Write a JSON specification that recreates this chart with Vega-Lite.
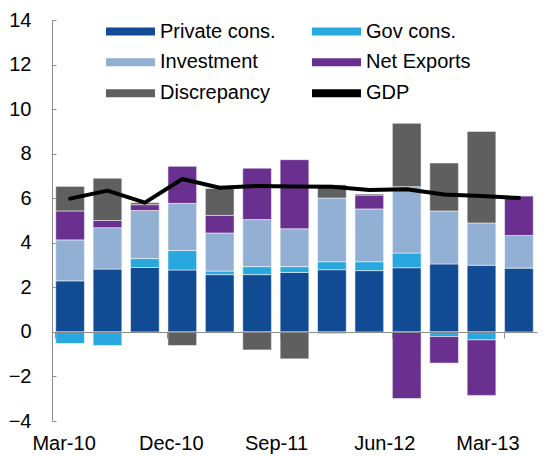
{
  "$schema": "https://vega.github.io/schema/vega-lite/v6.json",
  "width": 485,
  "height": 401,
  "autosize": {"type": "none"},
  "padding": {"left": 52, "top": 20, "right": 15, "bottom": 35},
  "config": {
    "font": "Liberation Sans",
    "view": {"stroke": null},
    "axis": {"labelFontSize": 20, "labelColor": "#000000", "domainColor": "#8c8c8c", "tickColor": "#8c8c8c", "grid": false, "title": null, "labelFont": "Liberation Sans"}
  },
  "datasets": {
    "bars": [
      {"q": "Mar-10", "comp": "Private cons.", "v": 2.29}, {"q": "Mar-10", "comp": "Gov cons.", "v": -0.52}, {"q": "Mar-10", "comp": "Investment", "v": 1.84}, {"q": "Mar-10", "comp": "Net Exports", "v": 1.30}, {"q": "Mar-10", "comp": "Discrepancy", "v": 1.10},
      {"q": "Jun-10", "comp": "Private cons.", "v": 2.82}, {"q": "Jun-10", "comp": "Gov cons.", "v": -0.61}, {"q": "Jun-10", "comp": "Investment", "v": 1.86}, {"q": "Jun-10", "comp": "Net Exports", "v": 0.32}, {"q": "Jun-10", "comp": "Discrepancy", "v": 1.90},
      {"q": "Sep-10", "comp": "Private cons.", "v": 2.89}, {"q": "Sep-10", "comp": "Gov cons.", "v": 0.40}, {"q": "Sep-10", "comp": "Investment", "v": 2.16}, {"q": "Sep-10", "comp": "Net Exports", "v": 0.26}, {"q": "Sep-10", "comp": "Discrepancy", "v": 0.09},
      {"q": "Dec-10", "comp": "Private cons.", "v": 2.78}, {"q": "Dec-10", "comp": "Gov cons.", "v": 0.87}, {"q": "Dec-10", "comp": "Investment", "v": 2.12}, {"q": "Dec-10", "comp": "Net Exports", "v": 1.66}, {"q": "Dec-10", "comp": "Discrepancy", "v": -0.61},
      {"q": "Mar-11", "comp": "Private cons.", "v": 2.57}, {"q": "Mar-11", "comp": "Gov cons.", "v": 0.16}, {"q": "Mar-11", "comp": "Investment", "v": 1.71}, {"q": "Mar-11", "comp": "Net Exports", "v": 0.79}, {"q": "Mar-11", "comp": "Discrepancy", "v": 1.21},
      {"q": "Jun-11", "comp": "Private cons.", "v": 2.57}, {"q": "Jun-11", "comp": "Gov cons.", "v": 0.36}, {"q": "Jun-11", "comp": "Investment", "v": 2.11}, {"q": "Jun-11", "comp": "Net Exports", "v": 2.31}, {"q": "Jun-11", "comp": "Discrepancy", "v": -0.81},
      {"q": "Sep-11", "comp": "Private cons.", "v": 2.67}, {"q": "Sep-11", "comp": "Gov cons.", "v": 0.26}, {"q": "Sep-11", "comp": "Investment", "v": 1.70}, {"q": "Sep-11", "comp": "Net Exports", "v": 3.10}, {"q": "Sep-11", "comp": "Discrepancy", "v": -1.21},
      {"q": "Dec-11", "comp": "Private cons.", "v": 2.79}, {"q": "Dec-11", "comp": "Gov cons.", "v": 0.36}, {"q": "Dec-11", "comp": "Investment", "v": 2.86}, {"q": "Dec-11", "comp": "Net Exports", "v": -0.07}, {"q": "Dec-11", "comp": "Discrepancy", "v": 0.59},
      {"q": "Mar-12", "comp": "Private cons.", "v": 2.75}, {"q": "Mar-12", "comp": "Gov cons.", "v": 0.40}, {"q": "Mar-12", "comp": "Investment", "v": 2.37}, {"q": "Mar-12", "comp": "Net Exports", "v": 0.62}, {"q": "Mar-12", "comp": "Discrepancy", "v": 0.05},
      {"q": "Jun-12", "comp": "Private cons.", "v": 2.88}, {"q": "Jun-12", "comp": "Gov cons.", "v": 0.66}, {"q": "Jun-12", "comp": "Investment", "v": 2.98}, {"q": "Jun-12", "comp": "Net Exports", "v": -2.99}, {"q": "Jun-12", "comp": "Discrepancy", "v": 2.84},
      {"q": "Sep-12", "comp": "Private cons.", "v": 3.05}, {"q": "Sep-12", "comp": "Gov cons.", "v": -0.21}, {"q": "Sep-12", "comp": "Investment", "v": 2.38}, {"q": "Sep-12", "comp": "Net Exports", "v": -1.19}, {"q": "Sep-12", "comp": "Discrepancy", "v": 2.15},
      {"q": "Dec-12", "comp": "Private cons.", "v": 2.99}, {"q": "Dec-12", "comp": "Gov cons.", "v": -0.36}, {"q": "Dec-12", "comp": "Investment", "v": 1.90}, {"q": "Dec-12", "comp": "Net Exports", "v": -2.49}, {"q": "Dec-12", "comp": "Discrepancy", "v": 4.11},
      {"q": "Mar-13", "comp": "Private cons.", "v": 2.87}, {"q": "Mar-13", "comp": "Gov cons.", "v": 0.0}, {"q": "Mar-13", "comp": "Investment", "v": 1.46}, {"q": "Mar-13", "comp": "Net Exports", "v": 1.78}, {"q": "Mar-13", "comp": "Discrepancy", "v": 0.0}
    ],
    "gdp": [
      {"q": "Mar-10", "v": 5.98}, {"q": "Jun-10", "v": 6.34}, {"q": "Sep-10", "v": 5.80}, {"q": "Dec-10", "v": 6.86},
      {"q": "Mar-11", "v": 6.47}, {"q": "Jun-11", "v": 6.55}, {"q": "Sep-11", "v": 6.53}, {"q": "Dec-11", "v": 6.52},
      {"q": "Mar-12", "v": 6.37}, {"q": "Jun-12", "v": 6.40}, {"q": "Sep-12", "v": 6.17}, {"q": "Dec-12", "v": 6.10}, {"q": "Mar-13", "v": 6.01}
    ]
  },
  "layer": [
    {
      "data": {"name": "bars"},
      "transform": [{"calculate": "indexof(['Private cons.','Gov cons.','Investment','Net Exports','Discrepancy'], datum.comp)", "as": "o"}],
      "mark": {"type": "bar", "stroke": "#ffffff", "strokeWidth": 0.5},
      "encoding": {
        "x": {
          "field": "q", "type": "ordinal",
          "scale": {"domain": ["Mar-10","Jun-10","Sep-10","Dec-10","Mar-11","Jun-11","Sep-11","Dec-11","Mar-12","Jun-12","Sep-12","Dec-12","Mar-13"], "paddingInner": 0.233, "paddingOuter": 0.1},
          "axis": {"values": ["Mar-10","Dec-10","Sep-11","Jun-12","Mar-13"], "bandPosition": 0, "labelAngle": 0, "labelAlign": "center",
            "labelOffset": {"condition": [{"test": "datum.value == 'Mar-10'", "value": -6}, {"test": "datum.value == 'Dec-10'", "value": -11}, {"test": "datum.value == 'Sep-11'", "value": -18}, {"test": "datum.value == 'Jun-12'", "value": -22}], "value": -31},
            "offset": -89, "tickSize": 6, "labelPadding": 95, "zindex": 1, "labelFlush": false}
        },
        "y": {
          "field": "v", "type": "quantitative",
          "scale": {"domain": [-4, 14], "nice": false},
          "axis": {"values": [-4,-2,0,2,4,6,8,10,12,14], "tickSize": -4, "labelPadding": 25}
        },
        "color": {
          "field": "comp", "type": "nominal",
          "scale": {"domain": ["Private cons.","Investment","Discrepancy","Gov cons.","Net Exports","GDP"], "range": ["#114b94","#92b0d3","#5f5f5f","#29a8e0","#6a3090","#000000"]},
          "legend": {"orient": "none", "legendX": 54, "legendY": -4, "columns": 2, "title": null, "symbolType": "M-1,-0.163H1V0.163H-1Z", "symbolSize": 2401, "symbolStrokeWidth": 0, "labelFontSize": 20, "labelColor": "#000000", "labelOffset": 5, "columnPadding": 36, "rowPadding": 0, "clipHeight": 30.5, "labelFont": "Liberation Sans"}
        },
        "order": {"field": "o"}
      }
    },
    {
      "data": {"name": "gdp"},
      "mark": {"type": "line", "strokeWidth": 4, "strokeCap": "round", "strokeJoin": "round"},
      "encoding": {
        "x": {"field": "q", "type": "ordinal"},
        "y": {"field": "v", "type": "quantitative"},
        "color": {"datum": "GDP", "type": "nominal"}
      }
    }
  ]
}
